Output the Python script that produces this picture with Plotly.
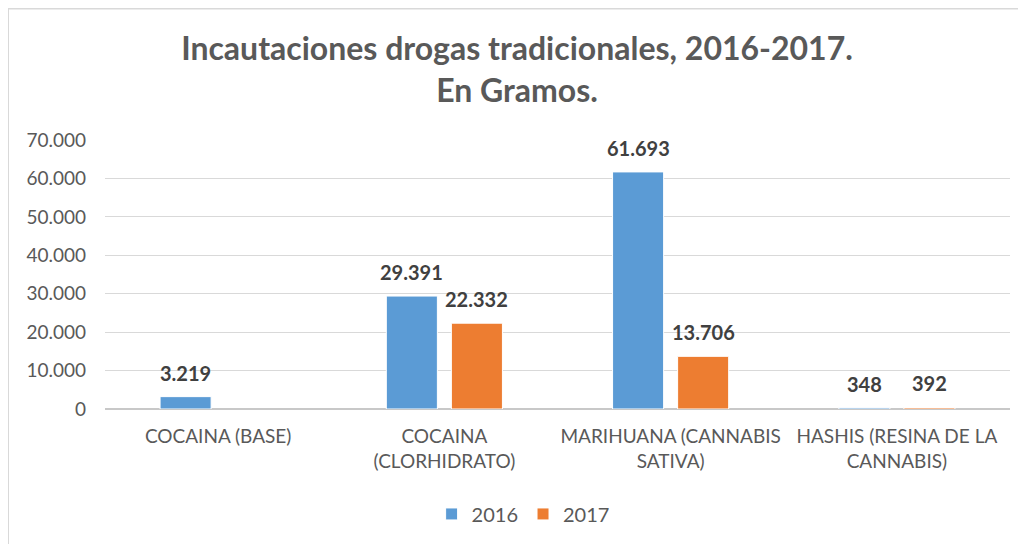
import plotly.graph_objects as go

categories = ["COCAINA (BASE)", "COCAINA<br>(CLORHIDRATO)", "MARIHUANA (CANNABIS<br>SATIVA)", "HASHIS (RESINA DE LA<br>CANNABIS)"]
series_names = ["2016", "2017"]
values_2016 = [3219, 29391, 61693, 348]
values_2017 = [None, 22332, 13706, 392]
y_ticks = [0, 10000, 20000, 30000, 40000, 50000, 60000, 70000]

FONT = "Lato"
W, H = 1018, 536
M = dict(l=97, r=16, t=132, b=134)
BARGAP = 0.425
colors = ["#5B9BD5", "#ED7D31"]

fig = go.Figure()
for name, vals, col in zip(series_names, [values_2016, values_2017], colors):
    fig.add_trace(go.Bar(name=name, x=categories, y=vals,
                         marker=dict(color=col, line=dict(color="white", width=1))))

# data labels above the bars
plot_w = W - M["l"] - M["r"]
cat_px = plot_w / len(categories)
slot = cat_px * (1 - BARGAP) / 2
annotations = []
for i, vals in enumerate([values_2016, values_2017]):
    shift = (i - 0.5) * slot
    for c, v in zip(categories, vals):
        if v is None:
            continue
        annotations.append(dict(x=c, y=v, xref="x", yref="y", text=f"{v:,}".replace(",", "."),
                                showarrow=False, xshift=shift, yshift=24, yanchor="middle",
                                font=dict(family=FONT, size=20, color="#404040", weight="bold")))

fig.update_layout(
    width=W, height=H,
    margin=M,
    paper_bgcolor="white", plot_bgcolor="white",
    separators=",.",
    barmode="group", bargap=BARGAP, bargroupgap=0.215,
    font=dict(family=FONT, size=19, color="#595959"),
    title=dict(text="Incautaciones drogas tradicionales, 2016-2017.<br>En Gramos.",
               x=0.5, xanchor="center", y=0.903, yanchor="middle",
               font=dict(family=FONT, size=32, color="#595959", weight="bold")),
    xaxis=dict(showgrid=False, showline=False, ticks="", ticklabelstandoff=14,
               tickfont=dict(size=19, color="#595959")),
    yaxis=dict(range=[0, 70000], tickvals=y_ticks, tickformat=",d", showgrid=True, gridcolor="#D9D9D9",
               zeroline=True, zerolinecolor="#C8C8C8", zerolinewidth=1.5, ticks="", ticklabelstandoff=18,
               tickfont=dict(size=19, color="#595959")),
    legend=dict(orientation="h", x=0.462, xanchor="center", y=-0.385, yanchor="middle",
                font=dict(size=20, color="#595959"), itemwidth=30,
                traceorder="normal"),
    showlegend=True,
    annotations=annotations,
)
fig.add_shape(type="line", xref="paper", yref="paper", x0=-0.1072, x1=-0.1072, y0=-0.6, y1=1.4889,
              line=dict(color="#D9D9D9", width=2))
fig.add_shape(type="line", xref="paper", yref="paper", x0=-0.1072, x1=1.03, y0=1.4889, y1=1.4889,
              line=dict(color="#D9D9D9", width=2))
fig.write_html("out.html")
